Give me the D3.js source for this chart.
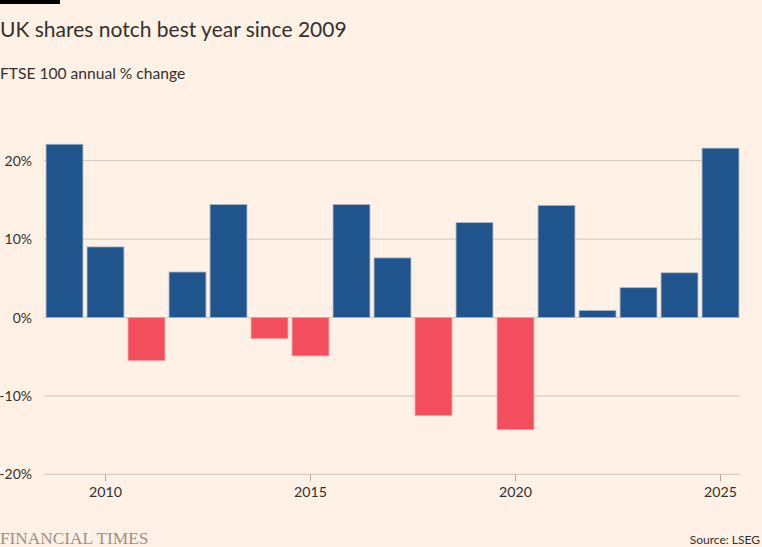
<!DOCTYPE html>
<html>
<head>
<meta charset="utf-8">
<script src="https://cdn.jsdelivr.net/npm/d3@7"></script>
<style>
  body { margin: 0; background: #fff1e5; }
  svg { display: block; font-family: Lato, "Noto Sans", sans-serif; }
</style>
</head>
<body>
<div id="chart"></div>
<script>
const years = [2009, 2010, 2011, 2012, 2013, 2014, 2015, 2016, 2017, 2018, 2019, 2020, 2021, 2022, 2023, 2024, 2025]
const changes = [22.1, 9.0, -5.5, 5.8, 14.4, -2.7, -4.9, 14.4, 7.6, -12.5, 12.1, -14.3, 14.3, 0.9, 3.8, 5.7, 21.6]
const yTicks = [-20, -10, 0, 10, 20]
const xTicks = [2010, 2015, 2020, 2025]

const width = 762, height = 547
const svg = d3.select("#chart").append("svg")
    .attr("width", width)
    .attr("height", height)

svg.append("rect").attr("width", width).attr("height", height).attr("fill", "#fff1e5")

// FT black tab top-left
svg.append("rect").attr("x", 0).attr("y", 0).attr("width", 60).attr("height", 4).attr("fill", "#000")

svg.append("text").attr("x", 0).attr("y", 37)
    .attr("font-size", 21).attr("fill", "#33302e")
    .text("UK shares notch best year since 2009")

svg.append("text").attr("x", 0).attr("y", 79)
    .attr("font-size", 15.6).attr("fill", "#33302e")
    .text("FTSE 100 annual % change")

let x = d3.scaleBand().domain(years).range([44, 741]).paddingInner(0.1).paddingOuter(0.05)
let y = d3.scaleLinear().domain([-20, 20]).range([474.3, 160.7])

// grid
let grid = svg.append("g")
grid.selectAll("line").data(yTicks).join("line")
    .attr("x1", 44).attr("x2", 740)
    .attr("y1", d => y(d)).attr("y2", d => y(d))
    .attr("stroke", "#d9cdc3").attr("stroke-width", 1.2)

grid.selectAll("text").data(yTicks).join("text")
    .attr("x", 32).attr("y", d => y(d) + 5)
    .attr("text-anchor", "end")
    .attr("font-size", 14).attr("fill", "#33302e")
    .text(d => d + "%")

// bars
svg.append("g").selectAll("rect").data(years).join("rect")
    .attr("x", d => x(d))
    .attr("width", x.bandwidth())
    .attr("y", (d, i) => y(Math.max(0, changes[i])))
    .attr("height", (d, i) => Math.abs(y(changes[i]) - y(0)))
    .attr("fill", (d, i) => changes[i] >= 0 ? "#1f558c" : "#f34e5e")
    .attr("stroke", (d, i) => changes[i] >= 0 ? "#a7b3c4" : "#f7a0a3")
    .attr("stroke-width", 0.8)

// x axis ticks
let xa = svg.append("g")
xa.selectAll("line").data(xTicks).join("line")
    .attr("x1", d => x(d) + x.bandwidth() / 2).attr("x2", d => x(d) + x.bandwidth() / 2)
    .attr("y1", y(-20)).attr("y2", y(-20) + 7)
    .attr("stroke", "#b3aaa3").attr("stroke-width", 1)
xa.selectAll("text").data(xTicks).join("text")
    .attr("x", d => x(d) + x.bandwidth() / 2).attr("y", 497)
    .attr("text-anchor", "middle")
    .attr("font-size", 14.2).attr("fill", "#33302e")
    .text(d => d)

svg.append("text").attr("x", 0).attr("y", 544)
    .attr("font-family", "'Liberation Serif', 'DejaVu Serif', serif")
    .attr("font-size", 17.3).attr("fill", "#9e9189")
    .text("FINANCIAL TIMES")

svg.append("text").attr("x", 760).attr("y", 544)
    .attr("text-anchor", "end")
    .attr("font-size", 12).attr("fill", "#33302e")
    .text("Source: LSEG")
</script>
</body>
</html>
